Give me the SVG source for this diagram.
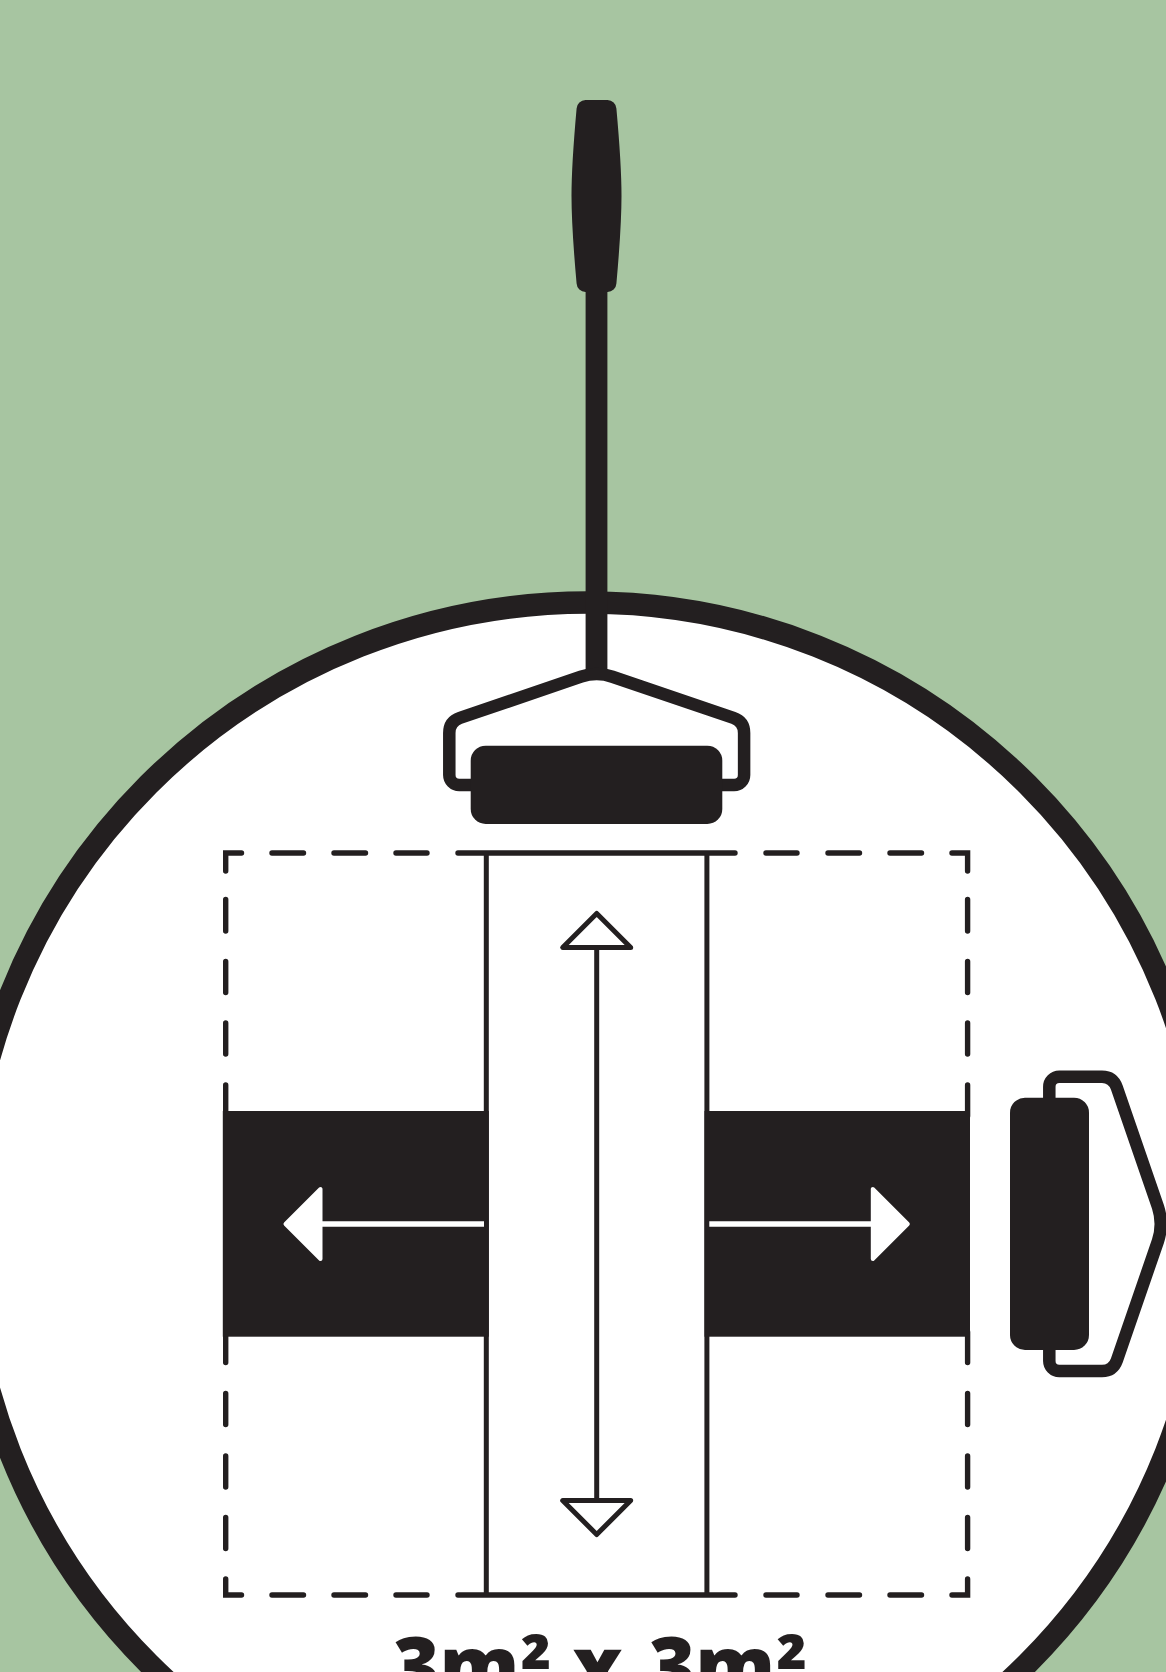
<svg xmlns="http://www.w3.org/2000/svg" width="1166" height="1672" viewBox="0 0 1166 1672">
<style>
.k{fill:#231f20}
.bracket{fill:none;stroke:#231f20;stroke-width:12.5}
.dash{fill:none;stroke:#231f20;stroke-width:5.4;stroke-linecap:round;stroke-linejoin:miter}
.thin{fill:none;stroke:#231f20;stroke-width:5}
.head{fill:#fff;stroke:#231f20;stroke-width:5;stroke-linejoin:round}
.wl{stroke:#fff;stroke-width:5.5;fill:none}
.wh{fill:#fff;stroke:#fff;stroke-width:4;stroke-linejoin:round}
.label{font-family:"Open Sans","Liberation Sans",sans-serif;font-weight:800;font-size:80px;fill:#231f20}
</style>
<rect width="1166" height="1672" fill="#a7c5a1"/>
<g id="circle"><circle cx="588" cy="1224" r="621.5" fill="#fff" stroke="#231f20" stroke-width="22.5"/></g>
<g id="handle-top">
<rect class="k" x="585.6" y="280" width="21.8" height="396"/>
<path class="k" d="M585.5,100 H607.5 A9 9 0 0 1 616.4,108.5 Q621.5,165 621.5,196 Q621.5,227 616.4,283.5 A9 9 0 0 1 607.5,292 H585.5 A9 9 0 0 1 576.6,283.5 Q571.5,227 571.5,196 Q571.5,165 576.6,108.5 A9 9 0 0 1 585.5,100 Z"/>
</g>
<g id="roller-top">
<path class="bracket" d="M475,785 H459.3 A10 10 0 0 1 449.3,775 V733 Q449.3,721.5 460,717.9 L581,676.7 Q596.7,671.5 612.4,676.7 L733.4,717.9 Q744.1,721.5 744.1,733 V775 A10 10 0 0 1 734.1,785 H718"/>
<rect class="k" x="470.7" y="745.7" width="251.6" height="78.3" rx="15"/>
</g>
<g id="roller-right">
<path class="bracket" d="M1049.3,1102 V1086.7 A10 10 0 0 1 1059.3,1076.7 H1102 Q1113,1076.7 1116.8,1087.5 L1158,1207 Q1163.5,1224 1158,1241 L1116.8,1360.5 Q1113,1371 1102,1371 H1059.3 A10 10 0 0 1 1049.3,1361 V1346"/>
<rect class="k" x="1010" y="1097.7" width="79" height="252.3" rx="15"/>
</g>
<g id="area">
<path class="dash" d="M225.7,871 V853 H241.5 M272,853 H303.5 M334,853 H365.5 M396,853 H427 M458,853 H735 M766,853 H797 M828,853 H859.5 M890,853 H921.5 M952,853 H967.6 V871 M967.6,899.5 V931 M967.6,961.5 V992.5 M967.6,1023 V1054 M967.6,1085 V1116 M967.6,1332 V1362.5 M967.6,1393.5 V1424.5 M967.6,1456 V1487 M967.6,1517.5 V1548.5 M967.6,1579 V1595 H952 M921.5,1595 H890 M859.5,1595 H828 M797,1595 H766 M735,1595 H458 M427,1595 H396 M365.5,1595 H334 M303.5,1595 H272 M241.5,1595 H225.7 V1579 M225.7,1548.5 V1517.5 M225.7,1487 V1456 M225.7,1424.5 V1393.5 M225.7,1362.5 V1332 M225.7,1116 V1085 M225.7,1054 V1023 M225.7,992.5 V961.5 M225.7,931 V899.5"/>
<path class="thin" d="M486.3,853 V1595 M706.9,853 V1595"/>
<rect class="k" x="222.8" y="1111" width="266" height="225.7"/>
<rect class="k" x="704.5" y="1111" width="265.5" height="225.7"/>
</g>
<g id="connectors">
<path class="wl" d="M484,1224 H322"/>
<path class="wh" d="M285.5,1224 L320.5,1189 V1259 Z"/>
<path class="wl" d="M709.3,1224 H871"/>
<path class="wh" d="M907.8,1224 L872.8,1189 V1259 Z"/>
<path class="thin" d="M596.7,947 V1501"/>
<path class="head" d="M596.7,913.5 L562.7,947.5 H630.7 Z"/>
<path class="head" d="M596.7,1534.5 L562.7,1500.5 H630.7 Z"/>
</g>
<g id="label"><text class="label" x="600" y="1694" text-anchor="middle">3m<tspan dy="8">²</tspan><tspan dy="-8"> x </tspan><tspan dx="5">3m</tspan><tspan dy="8">²</tspan></text></g>
</svg>
